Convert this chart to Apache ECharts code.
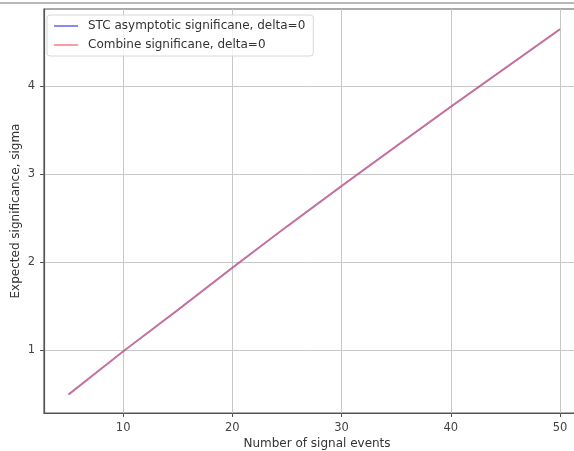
<!DOCTYPE html>
<html>
<head>
<meta charset="utf-8">
<script src="https://cdn.jsdelivr.net/npm/echarts@6/dist/echarts.min.js"></script>
<style>
  html, body { margin: 0; padding: 0; background: #fff; }
  #chart { width: 574px; height: 451px; }
</style>
</head>
<body>
<div id="chart"></div>
<script>
// Signal event counts and the expected significance for each method
const signalEvents = [5, 10, 15, 20, 25, 30, 35, 40, 45, 50];
const stcSignificance = [0.50, 0.99, 1.46, 1.94, 2.41, 2.87, 3.32, 3.77, 4.21, 4.65];
const combineSignificance = [0.50, 0.99, 1.46, 1.94, 2.41, 2.87, 3.32, 3.77, 4.21, 4.65];
const xTicks = [10, 20, 30, 40, 50];
const yTicks = [1, 2, 3, 4];
const seriesNames = ['STC asymptotic significane, delta=0', 'Combine significane, delta=0'];

const font = 'DejaVu Sans';
const pairs = (xs, ys) => xs.map((x, i) => [x, ys[i]]);

const chart = echarts.init(document.getElementById('chart'), null, { renderer: 'canvas' });
chart.setOption({
  animation: false,
  backgroundColor: '#fff',
  grid: { left: 44, right: -16, top: 9, bottom: 38, containLabel: false, outerBoundsMode: 'none',
          show: true, borderColor: '#555', borderWidth: 1.2 },
  legend: {
    left: 47, top: 15, orient: 'vertical', itemGap: 7,
    padding: [5, 8, 5, 7],
    backgroundColor: 'rgba(255,255,255,0.8)', borderColor: '#d8d8d8', borderWidth: 1, borderRadius: 3,
    itemWidth: 24, itemHeight: 2,
    icon: 'rect',
    textStyle: { fontFamily: font, fontSize: 12, color: '#333', padding: [0, 0, 0, 5] },
    data: seriesNames
  },
  xAxis: {
    type: 'value', min: 2.75, max: 52.75,
    name: 'Number of signal events', nameLocation: 'middle', nameGap: 25, nameMoveOverlap: false,
    nameTextStyle: { fontFamily: font, fontSize: 12, color: '#333' },
    axisLine: { show: true, lineStyle: { color: '#555', width: 1.2 } },
    axisTick: { show: true, length: 4, customValues: xTicks, lineStyle: { color: '#555' } },
    axisLabel: { customValues: xTicks, fontFamily: font, fontSize: 11.5, color: '#444', margin: 9 },
    splitLine: { show: true, customValues: xTicks, lineStyle: { color: '#c8c8c8', width: 1 } }
  },
  yAxis: {
    type: 'value', min: 0.29, max: 4.88,
    name: 'Expected significance, sigma', nameLocation: 'middle', nameGap: 22, nameMoveOverlap: false,
    nameTextStyle: { fontFamily: font, fontSize: 12, color: '#333' },
    axisLine: { show: true, lineStyle: { color: '#555', width: 1.2 } },
    axisTick: { show: true, length: 4, customValues: yTicks, lineStyle: { color: '#555' } },
    axisLabel: { customValues: yTicks, fontFamily: font, fontSize: 11.5, color: '#444', margin: 9 },
    splitLine: { show: true, customValues: yTicks, lineStyle: { color: '#c8c8c8', width: 1 } }
  },
  graphic: [
    { type: 'line', shape: { x1: 0, y1: 3, x2: 574, y2: 3 }, style: { stroke: '#a0a0a0', lineWidth: 1.5 }, silent: true }
  ],
  series: [
    {
      name: seriesNames[0], type: 'line', data: pairs(signalEvents, stcSignificance),
      symbol: 'none', color: 'rgba(60,60,240,0.6)',
      lineStyle: { width: 1.8, color: 'rgba(60,60,240,0.6)' }
    },
    {
      name: seriesNames[1], type: 'line', data: pairs(signalEvents, combineSignificance),
      symbol: 'none', color: 'rgba(245,90,90,0.6)',
      lineStyle: { width: 1.8, color: 'rgba(245,90,90,0.6)' }
    }
  ]
});
</script>
</body>
</html>
